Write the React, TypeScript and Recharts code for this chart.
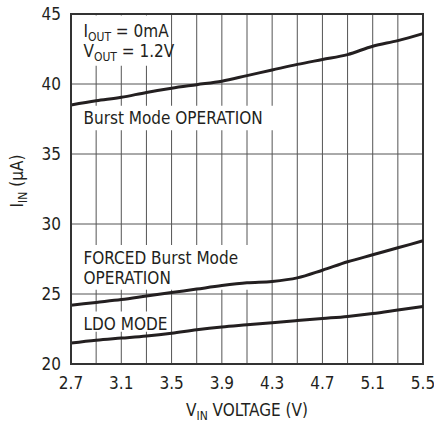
import React from "react";
import {
  ComposedChart,
  Line,
  XAxis,
  YAxis,
  CartesianGrid,
  ReferenceArea,
} from "recharts";

// input voltage (V), one point per grid step
const vin = [2.7, 2.9, 3.1, 3.3, 3.5, 3.7, 3.9, 4.1, 4.3, 4.5, 4.7, 4.9, 5.1, 5.3, 5.5];
// supply current (uA) for each mode
const burst = [38.5, 38.8, 39.05, 39.4, 39.7, 39.95, 40.2, 40.6, 41.0, 41.4, 41.75, 42.1, 42.7, 43.1, 43.6];
const forced = [24.2, 24.4, 24.6, 24.85, 25.1, 25.35, 25.6, 25.8, 25.9, 26.15, 26.7, 27.3, 27.8, 28.3, 28.8];
const ldo = [21.5, 21.7, 21.85, 22.0, 22.2, 22.45, 22.65, 22.8, 22.95, 23.1, 23.25, 23.4, 23.6, 23.85, 24.1];

const xTicks = [2.7, 3.1, 3.5, 3.9, 4.3, 4.7, 5.1, 5.5];
const yTicks = [20, 25, 30, 35, 40, 45];

const rows = vin.map((v, i) => ({ v, burst: burst[i], forced: forced[i], ldo: ldo[i] }));

const FONT = "'Liberation Sans Narrow', 'DejaVu Sans Condensed', 'Liberation Sans', sans-serif";
const INK = "#231f20";

const txt = { fontFamily: FONT, fontSize: 17, fill: INK };

// label drawn inside a white reference box
const boxLabel = (lines: React.ReactNode[], dy: number, step: number) => (props: any) => {
  const { x, y } = props.viewBox;
  return (
    <g>
      {lines.map((l, i) => (
        <text key={i} x={x + 10} y={y + dy + i * step} {...txt}>
          {l}
        </text>
      ))}
    </g>
  );
};

const sub = (main: string, s: string, rest: string) => (
  <>
    <tspan>{main}</tspan>
    <tspan dy={4} fontSize={12}>{s}</tspan>
    <tspan dy={-4}>{rest}</tspan>
  </>
);

const App: React.FC = () => (
  <div style={{ position: "absolute", left: 0, top: 0 }}>
    <ComposedChart
      width={434}
      height={423}
      data={rows}
      margin={{ top: 14, right: 11, left: 0, bottom: 0 }}
      style={{ fontFamily: FONT }}
    >
      <CartesianGrid
        stroke="#555"
        strokeWidth={1}
        verticalValues={vin}
        horizontalValues={yTicks}
      />
      <ReferenceArea
        x1={2.72}
        x2={3.45}
        y1={41.3}
        y2={44.9}
        fill="#fff"
        fillOpacity={1}
        stroke="none"
        label={boxLabel([sub("I", "OUT", " = 0mA"), sub("V", "OUT", " = 1.2V")], 22, 20)}
      />
      <ReferenceArea
        x1={2.72}
        x2={4.4}
        y1={36.7}
        y2={38.45}
        fill="#fff"
        fillOpacity={1}
        stroke="none"
        label={boxLabel(["Burst Mode OPERATION"], 18, 20)}
      />
      <ReferenceArea
        x1={2.72}
        x2={4.2}
        y1={25.3}
        y2={28.5}
        fill="#fff"
        fillOpacity={1}
        stroke="none"
        label={boxLabel(["FORCED Burst Mode", "OPERATION"], 19, 20)}
      />
      <ReferenceArea
        x1={2.72}
        x2={3.45}
        y1={22.3}
        y2={23.75}
        fill="#fff"
        fillOpacity={1}
        stroke="none"
        label={boxLabel(["LDO MODE"], 18, 20)}
      />
      <XAxis
        dataKey="v"
        type="number"
        domain={[2.7, 5.5]}
        ticks={xTicks}
        tickFormatter={(t: number) => t.toFixed(1)}
        tickLine={false}
        tickSize={0}
        tickMargin={13}
        axisLine={{ stroke: "#333", strokeWidth: 2 }}
        tick={txt}
        height={59}
        label={(p: any) => {
          const { x, width } = p.viewBox;
          return (
            <text x={x + width / 2} y={416} textAnchor="middle" {...txt}>
              {sub("V", "IN", " VOLTAGE (V)")}
            </text>
          );
        }}
      />
      <YAxis
        type="number"
        domain={[20, 45]}
        ticks={yTicks}
        tickLine={false}
        tickSize={0}
        tickMargin={10}
        axisLine={{ stroke: "#333", strokeWidth: 2 }}
        tick={txt}
        width={71}
        label={() => {
          const cy = 181;
          return (
            <text x={23} y={cy} textAnchor="middle" transform={`rotate(-90 23 ${cy})`} {...txt}>
              {sub("I", "IN", " (\u00b5A)")}
            </text>
          );
        }}
      />
      <Line type="monotone" dataKey="burst" stroke={INK} strokeWidth={3} dot={false} isAnimationActive={false} />
      <Line type="monotone" dataKey="forced" stroke={INK} strokeWidth={3} dot={false} isAnimationActive={false} />
      <Line type="monotone" dataKey="ldo" stroke={INK} strokeWidth={3} dot={false} isAnimationActive={false} />
      <ReferenceArea x1={2.7} x2={5.5} y1={20} y2={45} stroke="#333" strokeWidth={2} fill="none" />
    </ComposedChart>
  </div>
);

export default App;
